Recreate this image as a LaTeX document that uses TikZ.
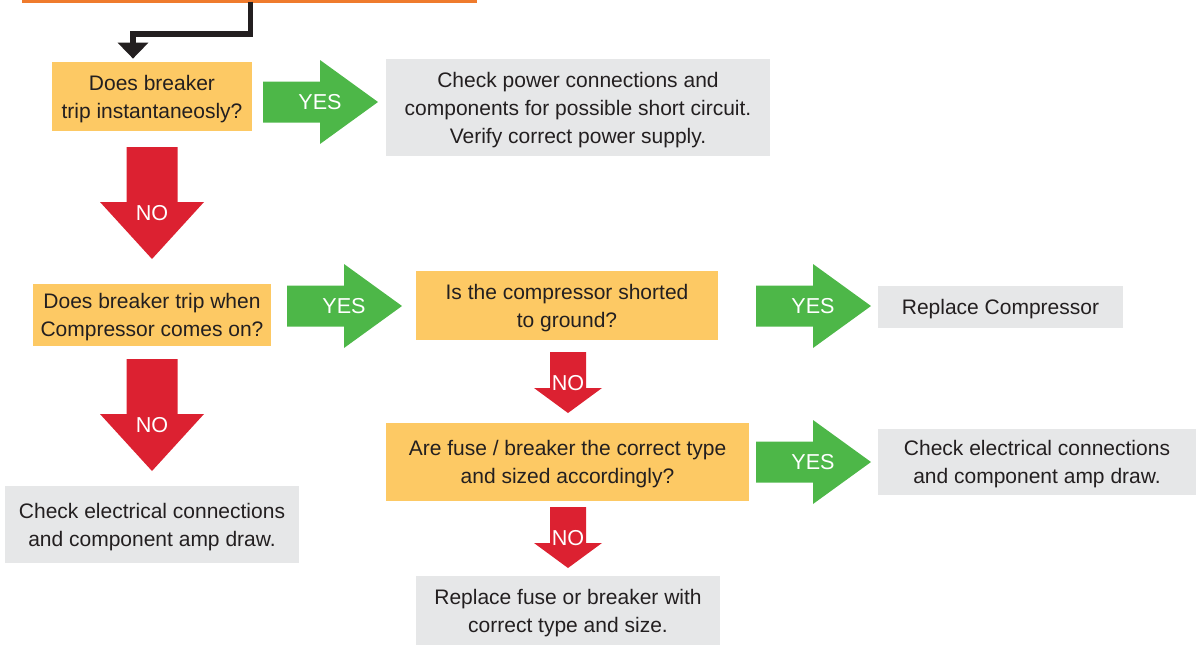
\documentclass[tikz,border=0pt]{standalone}
\usepackage{fontspec}
\setmainfont{Liberation Sans}
\usetikzlibrary{positioning, arrows.meta}
\definecolor{askcol}{HTML}{FDC964}
\definecolor{fixcol}{HTML}{E6E7E8}
\definecolor{yescol}{HTML}{4DB748}
\definecolor{nocol}{HTML}{DC2131}
\definecolor{topcol}{HTML}{EF7B2D}
\definecolor{inkcol}{HTML}{231F20}

\begin{document}
\begin{tikzpicture}[x=0.5pt, y=-0.5pt, >={Triangle[width=15pt,length=8pt]},
    box/.style={inner sep=0pt, align=center, text depth=0pt, text=inkcol, font=\fontsize{10.5}{14}\selectfont},
    ask/.style={box, fill=askcol},
    fix/.style={box, fill=fixcol},
    tag/.style={inner sep=0pt, text=white, font=\fontsize{10.8}{12}\selectfont},
    yes/.style={fill=yescol},
    no/.style={fill=nocol}]
  \useasboundingbox (0,0) rectangle (1196,650);

  % questions
  \node[ask, minimum width=100pt, minimum height=34.5pt] (q1) at (152,96.5) {Does breaker\\trip instantaneosly?};
  \node[ask, minimum width=119pt, minimum height=31pt] (q2) at (152,315) {Does breaker trip when\\Compressor comes on?};
  \node[ask, minimum width=151pt, minimum height=34.5pt] (q3) at (567,305.5) {Is the compressor shorted\\to ground?};
  \node[ask, minimum width=181.5pt, minimum height=39pt] (q4) at (567.5,462) {Are fuse / breaker the correct type\\and sized accordingly?};

  % actions
  \node[fix, minimum width=192pt, minimum height=48.5pt] (r1) at (578,107.5) {Check power connections and\\components for possible short circuit.\\Verify correct power supply.};
  \node[fix, minimum width=147pt, minimum height=38.5pt] (r2) at (152,524.5) {Check electrical connections\\and component amp draw.};
  \node[fix, minimum width=122.5pt, minimum height=21pt] (r3) at (1000.5,307) {Replace Compressor};
  \node[fix, minimum width=159pt, minimum height=33pt] (r4) at (1037,462) {Check electrical connections\\and component amp draw.};
  \node[fix, minimum width=152pt, minimum height=34.5pt] (r5) at (568,610.5) {Replace fuse or breaker with\\correct type and size.};

  % entry from the box above
  \draw[topcol, line width=1.5pt] (22,1) -- (477,1);
  \coordinate (top) at (250.5,1.5);
  \coordinate (bend) at (133,34);
  \draw[->, inkcol, line width=2.75pt, shorten >=1.5pt] (top) |- (bend) -- (bend |- q1.north);

  % yes arrows
  \foreach \n/\x/\y in {1/320/102, 2/344/306, 3/813/306, 4/813/462} {
    \fill[yes] (\x,\y) ++(-57,-20.5) -- ++(57,0) -- ++(0,-21.5) -- ++(58,42) -- ++(-58,42) -- ++(0,-21.5) -- ++(-57,0) -- cycle;
    \node[tag] (yes\n) at (\x,\y) {YES};
  }

  % no arrows
  \foreach \n/\x/\y in {1/152/213, 2/152/425} {
    \fill[no] (\x,\y) ++(-25.5,-66) -- ++(51,0) -- ++(0,55) -- ++(26.5,0) -- ++(-52,57) -- ++(-52,-57) -- ++(26.5,0) -- cycle;
    \node[tag] (no\n) at (\x,\y) {NO};
  }
  \foreach \n/\x/\y in {3/568/383, 4/568/538} {
    \fill[no] (\x,\y) ++(-18,-31) -- ++(36,0) -- ++(0,36) -- ++(16,0) -- ++(-34,25) -- ++(-34,-25) -- ++(16,0) -- cycle;
    \node[tag] (no\n) at (\x,\y) {NO};
  }
\end{tikzpicture}
\end{document}
